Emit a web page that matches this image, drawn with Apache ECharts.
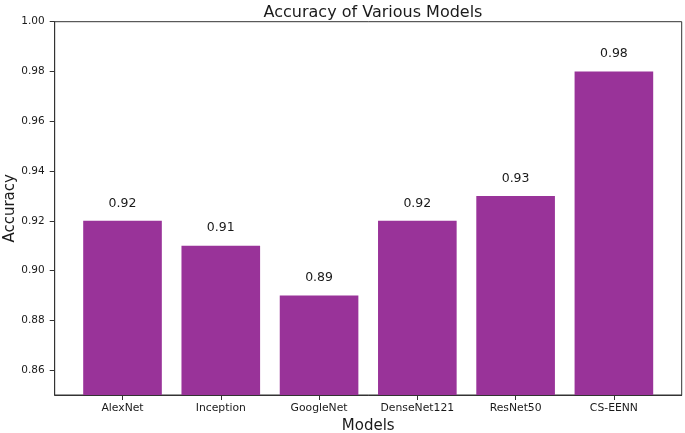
<!DOCTYPE html>
<html>
<head>
<meta charset="utf-8">
<script src="https://cdn.jsdelivr.net/npm/echarts@6/dist/echarts.min.js"></script>
<style>html,body{margin:0;padding:0;background:#fff;}#c{width:685px;height:433px;}</style>
</head>
<body>
<div id="c"></div>
<script>
var categories = ['AlexNet', 'Inception', 'GoogleNet', 'DenseNet121', 'ResNet50', 'CS-EENN'];
var accuracy = [0.92, 0.91, 0.89, 0.92, 0.93, 0.98];
var yTicks = [0.86, 0.88, 0.90, 0.92, 0.94, 0.96, 0.98, 1.00];
var xTicks = [0, 1, 2, 3, 4, 5];

var font = 'DejaVu Sans';
var chart = echarts.init(document.getElementById('c'), null, {renderer: 'canvas'});
chart.setOption({
  animation: false,
  backgroundColor: '#fff',
  title: {
    text: 'Accuracy of Various Models',
    left: 368, top: 0, textAlign: 'center',
    textStyle: {fontFamily: font, fontSize: 16, fontWeight: 'normal', color: '#1a1a1a'}
  },
  grid: {left: 54.7, right: 3.3, top: 21.7, bottom: 38, containLabel: false, outerBoundsMode: 'none',
    show: true, borderColor: '#333', borderWidth: 1, backgroundColor: 'transparent'},
  xAxis: {
    type: 'value', min: -0.69, max: 5.69,
    name: 'Models', nameLocation: 'middle', nameGap: 24, nameMoveOverlap: false,
    nameTextStyle: {fontFamily: font, fontSize: 15, color: '#1a1a1a'},
    splitLine: {show: false},
    axisLine: {show: true, onZero: false, lineStyle: {color: '#333', width: 1}},
    axisTick: {show: true, customValues: xTicks, length: 5, lineStyle: {color: '#333'}},
    axisLabel: {customValues: xTicks, formatter: function (v) { return categories[Math.round(v)]; },
      fontFamily: font, fontSize: 10.8, color: '#1a1a1a', margin: 8}
  },
  yAxis: {
    type: 'value', min: 0.85, max: 1.0,
    name: 'Accuracy', nameLocation: 'middle', nameGap: 37, nameMoveOverlap: false,
    nameTextStyle: {fontFamily: font, fontSize: 15, color: '#1a1a1a'},
    splitLine: {show: false},
    axisLine: {show: true, onZero: false, lineStyle: {color: '#333', width: 1}},
    axisTick: {show: true, customValues: yTicks, length: 5, lineStyle: {color: '#333'}},
    axisLabel: {customValues: yTicks, formatter: function (v) { return v.toFixed(2); },
      fontFamily: font, fontSize: 10.5, color: '#1a1a1a', margin: 10}
  },
  series: [{
    type: 'bar',
    barWidth: '80%',
    data: accuracy.map(function (v, i) { return [xTicks[i], v]; }),
    itemStyle: {color: '#993399'},
    label: {
      show: true, position: 'top', distance: 11,
      formatter: function (p) { return p.value[1].toFixed(2); },
      fontFamily: font, fontSize: 12.5, color: '#1a1a1a'
    }
  }]
});
</script>
</body>
</html>
